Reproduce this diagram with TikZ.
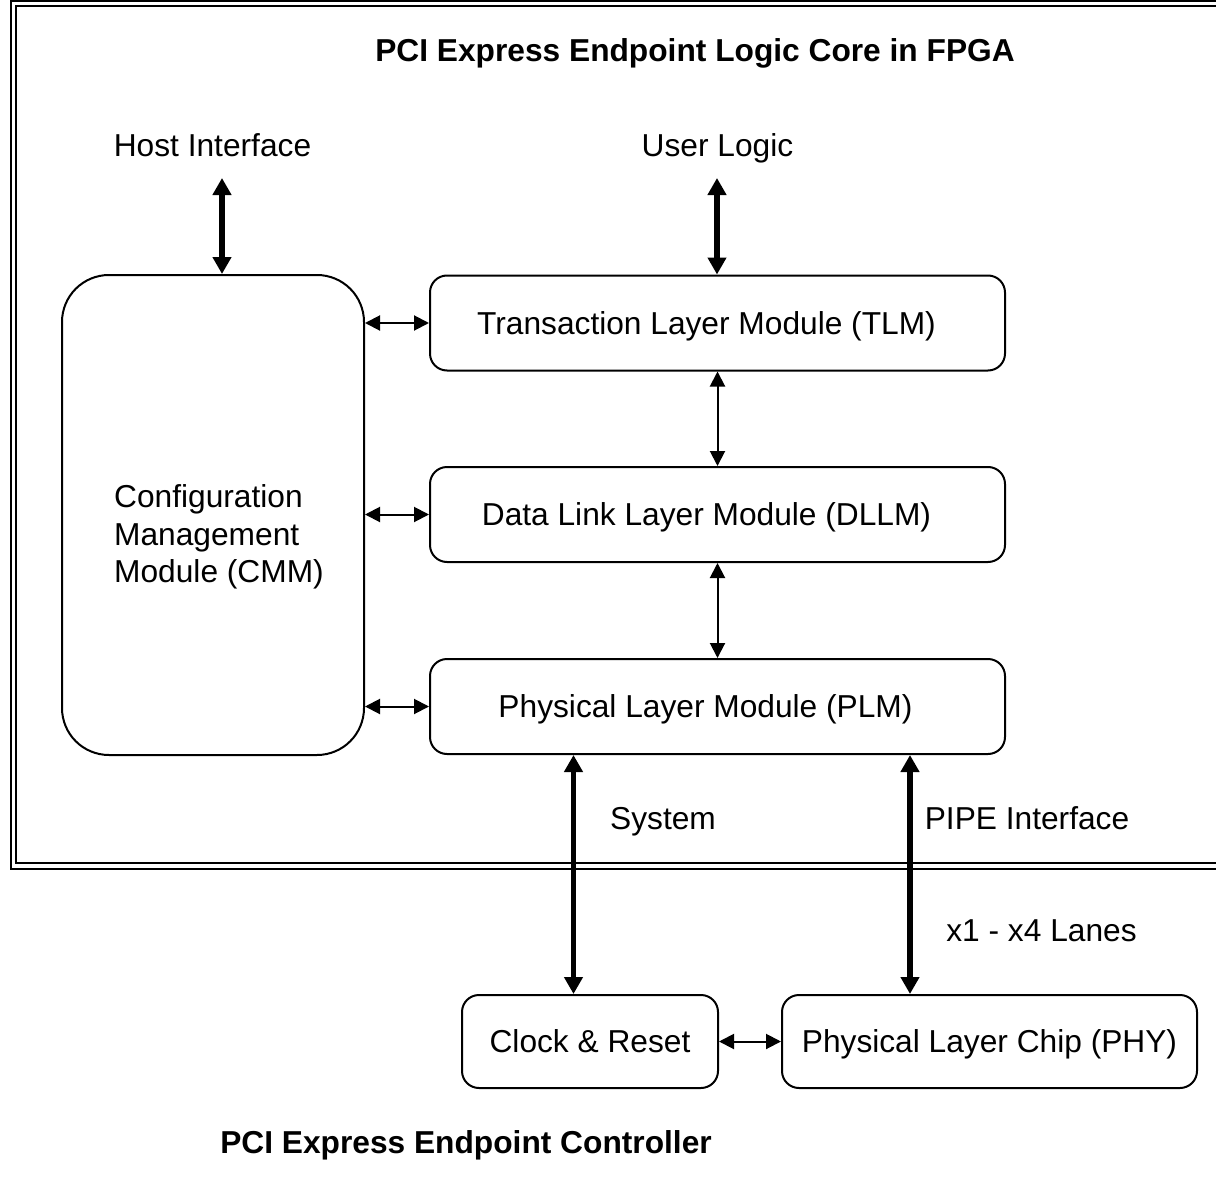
\documentclass[tikz,border=0pt]{standalone}
\usepackage{fontspec}
\setmainfont{Liberation Sans}
\usetikzlibrary{arrows.meta}
\begin{document}
\begin{tikzpicture}[x=1pt,y=-1pt,
  txt/.style={font=\fontsize{31.7}{37.5}\selectfont, inner sep=0pt, anchor=base},
  ttl/.style={txt, font=\fontsize{31.7}{37.5}\selectfont\bfseries},
  frameline/.style={line width=2pt},
  boxbase/.style={draw, line width=2pt, inner sep=0pt},
  modbox/.style={boxbase, rounded corners=17pt, minimum width=575pt, minimum height=95pt},
  smallbox/.style={boxbase, rounded corners=17pt, minimum height=93pt},
  thinarr/.style={line width=2pt, {Triangle[length=15pt,width=15pt]}-{Triangle[length=15pt,width=15pt]}},
  thickarr/.style={line width=5.5pt, {Triangle[length=17pt,width=18pt]}-{Triangle[length=17pt,width=18pt]}}
]
\useasboundingbox (0,0) rectangle (1216,1188);

% double frame of the FPGA core (open to the right)
\draw[frameline] (1222,1) -- (11,1) -- (11,869) -- (1222,869);
\draw[frameline] (1222,6) -- (16,6) -- (16,863) -- (1222,863);

% titles and interface labels
\node[ttl] (coretitle) at (695,62) {PCI Express Endpoint Logic Core in FPGA};
\node[ttl] (ctrltitle) at (466,1153) {PCI Express Endpoint Controller};
\node[txt] (hostlbl) at (212.5,157) {Host Interface};
\node[txt] (userlbl) at (717.5,157) {User Logic};
\node[txt] (syslbl) at (663,829) {System};
\node[txt] (pipelbl) at (1027,829) {PIPE Interface};
\node[txt] (lanelbl) at (1041.5,941) {x1 - x4 Lanes};

% modules
\node[boxbase, rounded corners=47pt, minimum width=302pt, minimum height=480pt] (cmm) at (213,515) {};
\node[font=\fontsize{31.7}{37.5}\selectfont, inner sep=0pt, align=left, anchor=west] (cmmtext) at (114,537)
  {Configuration\\Management\\Module (CMM)};

\node[modbox] (tlm) at (717.5,323) {};
\node[modbox] (dllm) at (717.5,514.5) {};
\node[modbox] (plm) at (717.5,706.5) {};
\node[txt] (tlmtext) at ([xshift=-11pt,yshift=-11pt]tlm.center) {Transaction Layer Module (TLM)};
\node[txt] (dllmtext) at ([xshift=-11pt,yshift=-11pt]dllm.center) {Data Link Layer Module (DLLM)};
\node[txt] (plmtext) at ([xshift=-12pt,yshift=-11pt]plm.center) {Physical Layer Module (PLM)};

\node[smallbox, minimum width=256pt] (clock) at (590,1041.5) {};
\node[smallbox, minimum width=415pt] (phy) at (989.5,1041.5) {};
\node[txt] (clocktext) at ([yshift=-11pt]clock.center) {Clock \& Reset};
\node[txt] (phytext) at ([yshift=-11pt]phy.center) {Physical Layer Chip (PHY)};

% free ends and vertical lines of the thick links
\coordinate (hostend) at (222,178);
\coordinate (userend) at (717,178);
\coordinate (sysline) at (573.5,0);
\coordinate (pipeline) at (910,0);

% thick links
\draw[thickarr] (hostend) -- (cmm.north -| hostend);
\draw[thickarr] (userend) -- (tlm.north -| userend);
\draw[thickarr] (plm.south -| sysline) -- (clock.north -| sysline);
\draw[thickarr] (plm.south -| pipeline) -- (phy.north -| pipeline);

% thin links
\draw[thinarr] (cmm.east |- tlm.west) -- (tlm.west);
\draw[thinarr] (cmm.east |- dllm.west) -- (dllm.west);
\draw[thinarr] (cmm.east |- plm.west) -- (plm.west);
\draw[thinarr] (tlm.south) -- (dllm.north);
\draw[thinarr] (dllm.south) -- (plm.north);
\draw[thinarr] (clock.east) -- (phy.west);
\end{tikzpicture}
\end{document}
